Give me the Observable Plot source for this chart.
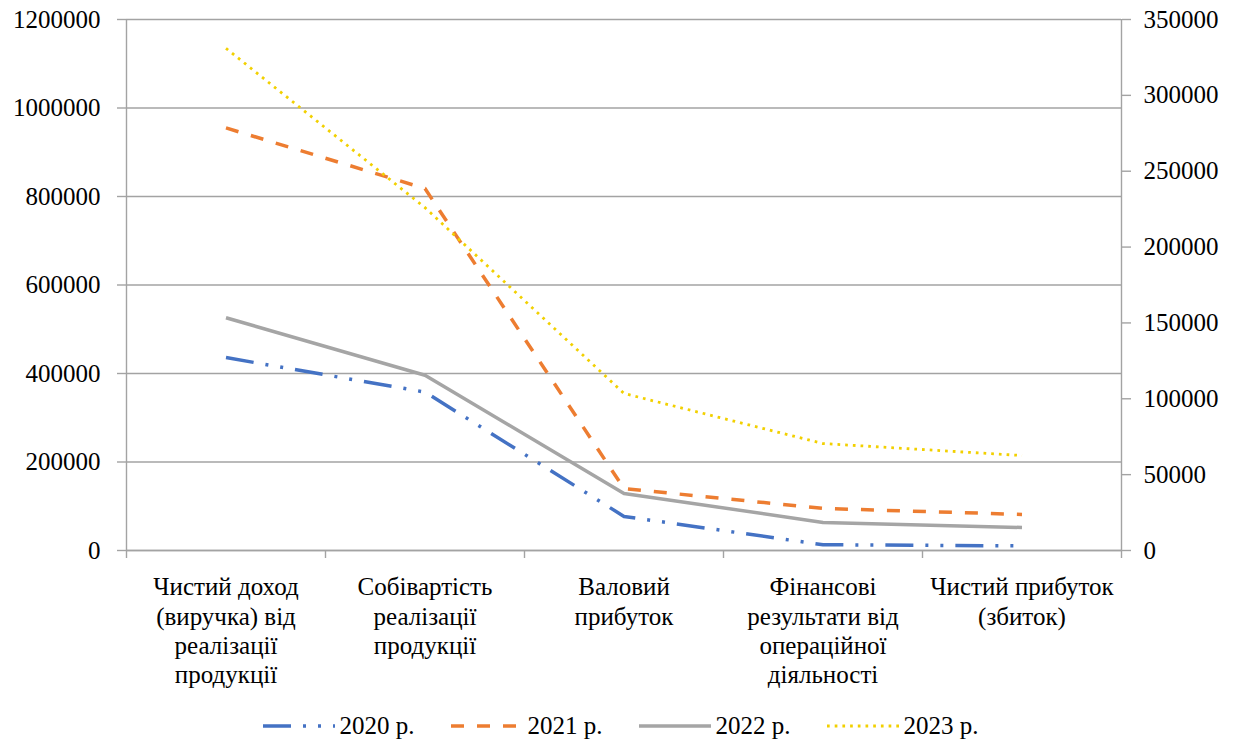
<!DOCTYPE html>
<html>
<head>
<meta charset="utf-8">
<script src="https://cdn.jsdelivr.net/npm/d3@7"></script>
<script src="https://cdn.jsdelivr.net/npm/@observablehq/plot@0.6"></script>
<style>
  body { margin: 0; background: #fff; font-family: "Liberation Serif", "Times New Roman", Tinos, "DejaVu Serif", serif; }
  #chart { width: 1241px; }
  .legend { display: flex; justify-content: center; align-items: center; gap: 36px;
            height: 41px; font-size: 25px; color: #000; }
  .legend .item { display: flex; align-items: center; gap: 5px; white-space: nowrap; }
  .legend svg { display: block; }
</style>
</head>
<body>
<div id="chart"></div>
<script>
// Indicators along the x axis
const categories = [
  "Чистий доход\n(виручка) від\nреалізації\nпродукції",
  "Собівартість\nреалізації\nпродукції",
  "Валовий\nприбуток",
  "Фінансові\nрезультати від\nопераційної\nдіяльності",
  "Чистий прибуток\n(збиток)"
];

// Series (UAH); 2023 is plotted against the secondary (right) axis
const years = ["2020 р.", "2021 р.", "2022 р.", "2023 р."];
const values2020 = [436000, 358000, 77000, 13000, 10500];
const values2021 = [955000, 818000, 140000, 95000, 81500];
const values2022 = [526000, 396000, 129000, 63500, 52000];
const values2023 = [331000, 226000, 103500, 70500, 62600];

// Axis ticks
const leftTicks = [0, 200000, 400000, 600000, 800000, 1000000, 1200000];
const rightTicks = [0, 50000, 100000, 150000, 200000, 250000, 300000, 350000];

const primaryMax = 1200000;
const secondaryMax = 350000;
const toPrimary = v => v * primaryMax / secondaryMax;

const seriesValues = [values2020, values2021, values2022, values2023];
const onSecondary = [false, false, false, true];

const styles = {
  "2020 р.": { stroke: "#4472C4", strokeWidth: 3.5, strokeDasharray: "28,12,3,12,3,12" },
  "2021 р.": { stroke: "#ED7D31", strokeWidth: 3.5, strokeDasharray: "13,13" },
  "2022 р.": { stroke: "#A5A5A5", strokeWidth: 3.5, strokeDasharray: null },
  "2023 р.": { stroke: "#F2D000", strokeWidth: 2.8, strokeDasharray: "2.7,5" }
};

const rows = [];
years.forEach((year, s) => {
  seriesValues[s].forEach((v, i) => {
    rows.push({ year, i, value: onSecondary[s] ? toPrimary(v) : v });
  });
});

const bandEdges = d3.range(categories.length + 1).map(k => k - 0.5);
const axisColor = "#a3a3a3";
const serifStack = '"Liberation Serif", "Times New Roman", Tinos, "DejaVu Serif", serif';

const chart = Plot.plot({
  width: 1241,
  height: 705,
  marginTop: 19,
  marginBottom: 155,
  marginLeft: 126,
  marginRight: 120,
  style: { fontFamily: serifStack, fontSize: "25px", color: "#000", background: "#fff" },
  x: { type: "linear", domain: [-0.5, categories.length - 0.5] },
  y: { domain: [0, primaryMax] },
  marks: [
    Plot.gridY(leftTicks, { stroke: axisColor, strokeOpacity: 1, strokeWidth: 1.4 }),
    Plot.ruleX([-0.5, categories.length - 0.5], { stroke: axisColor, strokeWidth: 1.4 }),
    Plot.ruleY([0], { stroke: axisColor, strokeWidth: 1.4 }),
    Plot.axisY(leftTicks, {
      anchor: "left", tickSize: 9, tickPadding: 17, label: null,
      tickFormat: d => String(d), stroke: axisColor, strokeWidth: 1.4, fill: "#000",
      fontSize: 25, fontFamily: serifStack
    }),
    Plot.axisY(rightTicks.map(toPrimary), {
      anchor: "right", tickSize: 9, tickPadding: 13, label: null,
      tickFormat: d => String(Math.round(d * secondaryMax / primaryMax)),
      stroke: axisColor, strokeWidth: 1.4, fill: "#000",
      fontSize: 25, fontFamily: serifStack
    }),
    Plot.axisX(bandEdges, {
      anchor: "bottom", tickSize: 8, tickFormat: () => "", label: null,
      stroke: axisColor, strokeWidth: 1.4
    }),
    Plot.text(categories, {
      x: (d, i) => i, y: () => 0, text: d => d,
      textAnchor: "middle", lineAnchor: "top", lineHeight: 1.17, dy: 24,
      fill: "#000", fontSize: 25, fontFamily: serifStack
    }),
    ...years.map(year => Plot.line(rows.filter(r => r.year === year), {
      x: "i", y: "value",
      stroke: styles[year].stroke,
      strokeWidth: styles[year].strokeWidth,
      strokeDasharray: styles[year].strokeDasharray,
      strokeLinejoin: "round",
      strokeLinecap: "butt"
    }))
  ]
});

const root = document.getElementById("chart");
root.appendChild(chart);

// Legend below the plot
const legend = document.createElement("div");
legend.className = "legend";
years.forEach(year => {
  const st = styles[year];
  const item = document.createElement("div");
  item.className = "item";
  const ns = "http://www.w3.org/2000/svg";
  const sw = document.createElementNS(ns, "svg");
  sw.setAttribute("width", 72);
  sw.setAttribute("height", 20);
  const ln = document.createElementNS(ns, "line");
  ln.setAttribute("x1", 0); ln.setAttribute("x2", 72);
  ln.setAttribute("y1", 10); ln.setAttribute("y2", 10);
  ln.setAttribute("stroke", st.stroke);
  ln.setAttribute("stroke-width", st.strokeWidth);
  if (st.strokeDasharray) ln.setAttribute("stroke-dasharray", st.strokeDasharray);
  sw.appendChild(ln);
  const label = document.createElement("span");
  label.textContent = year;
  item.appendChild(sw);
  item.appendChild(label);
  legend.appendChild(item);
});
root.appendChild(legend);
</script>
</body>
</html>
